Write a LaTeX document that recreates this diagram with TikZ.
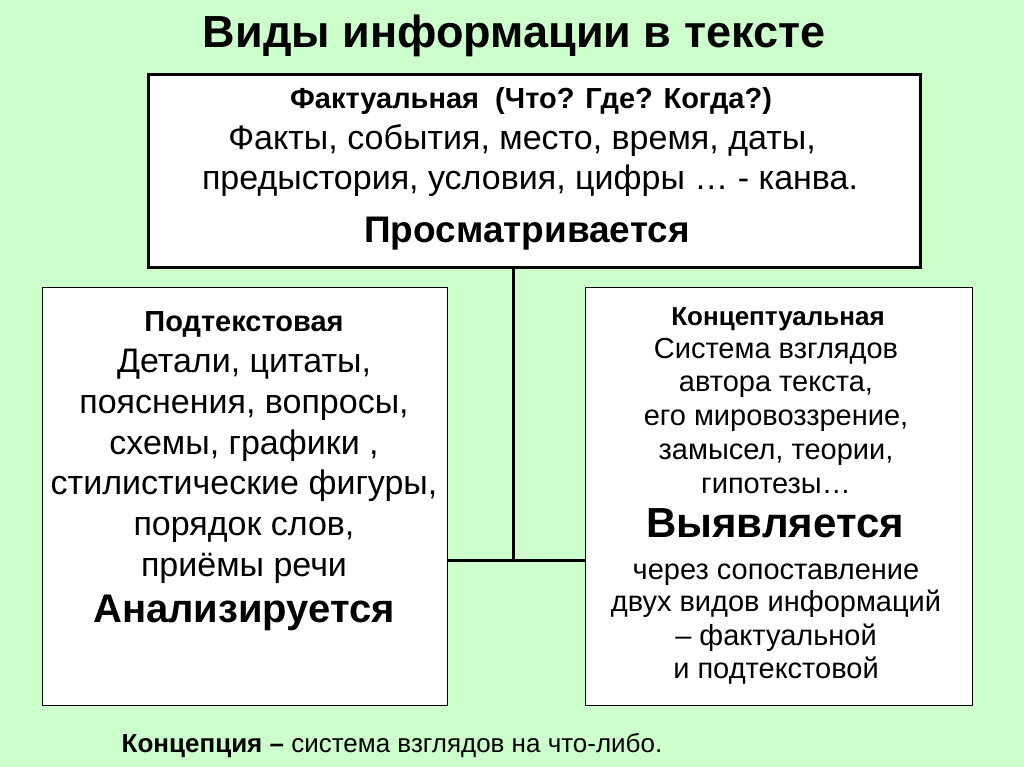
\documentclass[tikz,border=0pt]{standalone}
\usepackage{fontspec}
\setmainfont{Liberation Sans}
\definecolor{bg}{RGB}{204,255,204}
\begin{document}
\begin{tikzpicture}[x=1pt,y=-1pt,
  box/.style={draw=black,fill=white,line width=1pt},
  t/.style={inner sep=0pt,anchor=center,text height=0.72em,text depth=0.21em}]
\useasboundingbox (0,0) rectangle (1024,767);
\fill[bg] (0,0) rectangle (1024,767);
\node[t,font=\bfseries\fontsize{45}{50}\selectfont] (title) at (514,45) {Виды информации в тексте};
\draw[box,line width=3pt] (148,75) rectangle (920,267);
\coordinate (topb) at (513,267);
\draw[box] (42,287) rectangle (447,705);
\draw[box] (585,287) rectangle (972,705);
\coordinate (lj) at (447,560); \coordinate (rj) at (585,560); \coordinate (mj) at (513,560);
\draw[line width=3pt] (topb) -- (mj);
\draw[line width=3pt] (lj) -- (rj);
% top
\node[t,font=\bfseries\fontsize{29}{34}\selectfont] (t1) at (531,106) {Фактуальная\ \ (Что? Где? Когда?)};
\node[t,font=\fontsize{34}{40}\selectfont] (t2) at (522,147) {Факты, события, место, время, даты,};
\node[t,font=\fontsize{34}{40}\selectfont] (t3) at (530,187) {предыстория, условия, цифры … - канва.};
\node[t,font=\bfseries\fontsize{37}{42}\selectfont] (t4) at (527,240) {Просматривается};
% left
\node[t,font=\bfseries\fontsize{29}{34}\selectfont] (l1) at (244,329) {Подтекстовая};
\foreach \y/\s in {370/{Детали, цитаты,},411/{пояснения, вопросы,},452/{схемы, графики ,},492/{стилистические фигуры,},533/{порядок слов,},574/{приёмы речи}}
  \node[t,font=\fontsize{34}{40}\selectfont] at (244,\y) {\s};
\node[t,font=\bfseries\fontsize{40}{46}\selectfont] (l2) at (244,620) {Анализируется};
% right
\node[t,font=\bfseries\fontsize{26}{30}\selectfont] (r1) at (778,323) {Концептуальная};
\foreach \y/\s in {356/{Система взглядов},389/{автора текста,},423/{его мировоззрение,},457/{замысел, теории,},491/{гипотезы…},577/{через сопоставление},609/{двух видов информаций},643/{– фактуальной},676/{и подтекстовой}}
  \node[t,font=\fontsize{29}{34}\selectfont] at (776,\y) {\s};
\node[t,font=\bfseries\fontsize{42}{48}\selectfont] (r2) at (775,535) {Выявляется};
% bottom
\node[t,font=\fontsize{26}{30}\selectfont] (bot) at (392,750) {\textbf{Концепция –} система взглядов на что-либо.};
\end{tikzpicture}
\end{document}
